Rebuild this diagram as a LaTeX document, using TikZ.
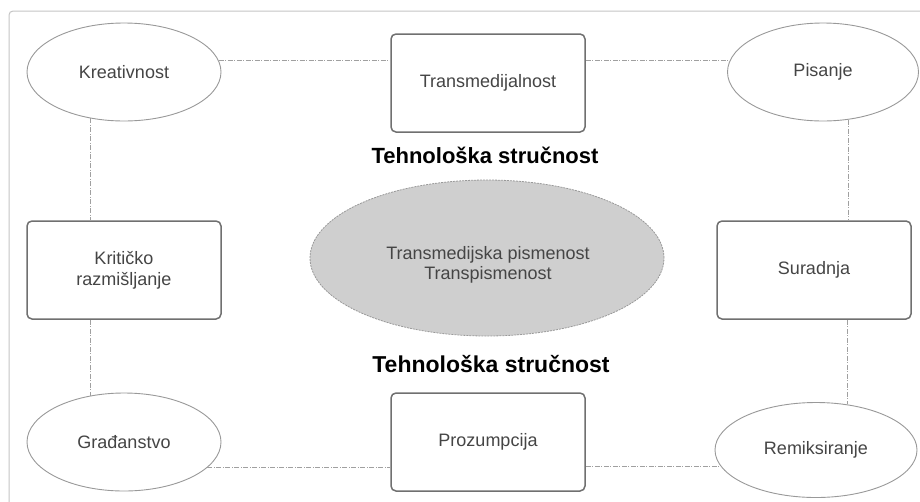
\documentclass[tikz,border=0pt]{standalone}
\usepackage{fontspec}
\setmainfont{Liberation Sans}
\usetikzlibrary{shapes.geometric}
\definecolor{txtgray}{HTML}{454545}
\definecolor{boxgray}{HTML}{707070}
\definecolor{ovalgray}{HTML}{999999}
\definecolor{linkgray}{HTML}{A0A0A0}
\definecolor{framegray}{HTML}{C4C4C4}
\definecolor{corefill}{HTML}{CFCFCF}
\begin{document}
\begin{tikzpicture}[x=1pt,y=-1pt,
	box/.style={draw=boxgray, line width=1.5pt, rounded corners=5pt, fill=white, minimum width=194pt, minimum height=98pt, inner sep=0pt, text=txtgray, align=center, font=\fontsize{18}{21}\selectfont},
	oval/.style={ellipse, draw=ovalgray, line width=0.9pt, fill=white, minimum width=194pt, minimum height=98pt, inner sep=0pt, text=txtgray, font=\fontsize{18}{21}\selectfont},
	link/.style={draw=linkgray, line width=0.8pt, dash pattern=on 5pt off 1.5pt on 1pt off 1.5pt},
	heading/.style={font=\bfseries\fontsize{22}{26}\selectfont}]
		\clip (0,0) rectangle (920,501);
		\draw[framegray, line width=1pt, rounded corners=4pt] (9,11) rectangle (940,520);
		\node[oval] (kreat) at (124,72) {Kreativnost};
		\node[box] (trans) at (488,83) {Transmedijalnost};
		\node[oval, minimum width=191pt] (pis) at (823,72) {Pisanje};
		\node[box] (krit) at (124,270) {Kritičko\\razmišljanje};
		\node[box] (sur) at (814,270) {Suradnja};
		\node[oval] (grad) at (124,442) {Građanstvo};
		\node[box] (proz) at (488,442) {Prozumpcija};
		\node[oval, minimum width=202pt, minimum height=95pt] (rem) at (816,450) {Remiksiranje};
		\node[ellipse, draw=ovalgray, line width=0.8pt, dash pattern=on 2pt off 1pt, fill=corefill, minimum width=354pt, minimum height=156pt] (core) at (487,258) {};
		\node[text=txtgray, align=center, font=\fontsize{18}{20}\selectfont] (coretxt) at (488,265) {Transmedijska pismenost\\Transpismenost};
		\node[heading] (head1) at (485,155) {Tehnološka stručnost};
		\node[heading, font=\bfseries\fontsize{23}{27}\selectfont] (head2) at (491,364) {Tehnološka stručnost};
		\draw[link] (kreat.7) -- (kreat.7 -| trans.west);
		\draw[link] (trans.east |- pis.173) -- (pis.173);
		\draw[link] (kreat.234) -- (kreat.234 |- krit.north);
		\draw[link] (krit.south -| grad.126) -- (grad.126);
		\draw[link] (pis.298) -- (pis.298 |- sur.north);
		\draw[link] (sur.south -| rem.55) -- (rem.55);
		\draw[link] (grad.343) -- (grad.343 -| proz.west);
		\draw[link] (proz.east |- rem.190) -- (rem.190);
	\end{tikzpicture}
\end{document}
